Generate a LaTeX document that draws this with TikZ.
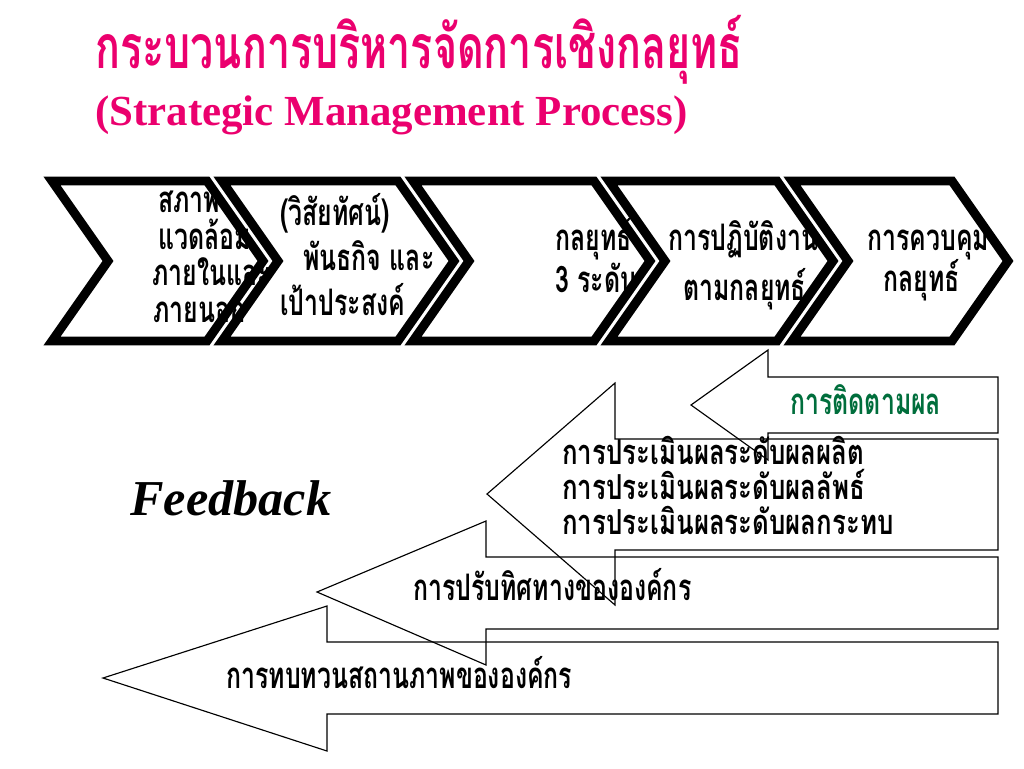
\documentclass[tikz,border=0pt]{standalone}
\usepackage{fontspec}
\setmainfont{Liberation Serif}
\newfontfamily\thaifont[Script=Thai,FakeStretch=0.68]{Loma}
\newfontfamily\evalfont[Script=Thai,FakeStretch=0.75]{Loma}
\definecolor{titlepink}{RGB}{235,0,110}
\definecolor{trackgreen}{RGB}{0,110,60}

\begin{document}
\begin{tikzpicture}[x=0.02cm, y=-0.02cm,
    chev/.style={line width=5.1pt, line join=miter},
    fback/.style={line width=0.65pt, line join=miter},
    thaitxt/.style={font=\thaifont\bfseries\fontsize{20.8pt}{24pt}\selectfont, anchor=base west, inner sep=0pt},
    evaltxt/.style={thaitxt, font=\evalfont\bfseries\fontsize{19.6pt}{23pt}\selectfont}]
        \useasboundingbox (0,0) rectangle (1024,768);

        % Title
        \node[font=\thaifont\bfseries\fontsize{34.5pt}{40pt}\selectfont, text=titlepink, anchor=base west, inner sep=0pt]
            (title) at (95,68) {กระบวนการบริหารจัดการเชิงกลยุทธ์};
        \node[font=\bfseries\fontsize{24.4pt}{29pt}\selectfont, text=titlepink, anchor=base west, inner sep=0pt]
            (subtitle) at (95,125) {(Strategic Management Process)};

        % Step texts
        \node[thaitxt] (env1) at (158,212) {สภาพ};
        \node[thaitxt] (env2) at (158,249) {แวดล้อม};
        \node[thaitxt] (env3) at (152,285) {ภายในและ};
        \node[thaitxt] (env4) at (153,322) {ภายนอก};
        \node[thaitxt] (vis1) at (280,225) {(วิสัยทัศน์)};
        \node[thaitxt] (vis2) at (303,270) {พันธกิจ และ};
        \node[thaitxt] (vis3) at (280,315) {เป้าประสงค์};
        \node[thaitxt] (strat1) at (555,250) {กลยุทธ์};
        \node[thaitxt] (strat2) at (555,292) {3 ระดับ};
        \node[thaitxt] (impl1) at (668,250) {การปฏิบัติงาน};
        \node[thaitxt] (impl2) at (683,300) {ตามกลยุทธ์};
        \node[thaitxt] (ctrl1) at (867,250) {การควบคุม};
        \node[thaitxt] (ctrl2) at (883,291) {กลยุทธ์};

        % Chevrons
        \draw[chev] (52,181) -- (207,181) -- (263,261) -- (207,341) -- (52,341) -- (108,261) -- cycle;
        \draw[chev] (222,181) -- (398,181) -- (454,261) -- (398,341) -- (222,341) -- (278,261) -- cycle;
        \draw[chev] (413,181) -- (594,181) -- (650,261) -- (594,341) -- (413,341) -- (469,261) -- cycle;
        \draw[chev] (609,181) -- (777,181) -- (833,261) -- (777,341) -- (609,341) -- (665,261) -- cycle;
        \draw[chev] (792,181) -- (952,181) -- (1008,261) -- (952,341) -- (792,341) -- (848,261) -- cycle;

        % Feedback arrows
        \draw[fback] (998,377) -- (768,377) -- (768,350) -- (691,405) -- (768,460) -- (768,433) -- (998,433) -- cycle;
        \draw[fback] (998,439) -- (615,439) -- (615,383) -- (487,494) -- (615,605) -- (615,550) -- (998,550) -- cycle;
        \draw[fback] (998,557) -- (486,557) -- (486,521) -- (317,592) -- (486,665) -- (486,629) -- (998,629) -- cycle;
        \draw[fback] (998,642) -- (327,642) -- (327,606) -- (103,678) -- (327,751) -- (327,714) -- (998,714) -- cycle;

        % Feedback texts
        \node[font=\bfseries\itshape\fontsize{28.6pt}{34pt}\selectfont, anchor=base west, inner sep=0pt]
            (feedback) at (130,515) {Feedback};
        \node[thaitxt, text=trackgreen] (track) at (790,414) {การติดตามผล};
        \node[evaltxt] (eval1) at (562,464) {การประเมินผลระดับผลผลิต};
        \node[evaltxt] (eval2) at (562,499) {การประเมินผลระดับผลลัพธ์};
        \node[evaltxt] (eval3) at (562,534) {การประเมินผลระดับผลกระทบ};
        \node[thaitxt] (adjust) at (413,600) {การปรับทิศทางขององค์กร};
        \node[thaitxt] (review) at (226,688) {การทบทวนสถานภาพขององค์กร};
      \end{tikzpicture}
\end{document}
